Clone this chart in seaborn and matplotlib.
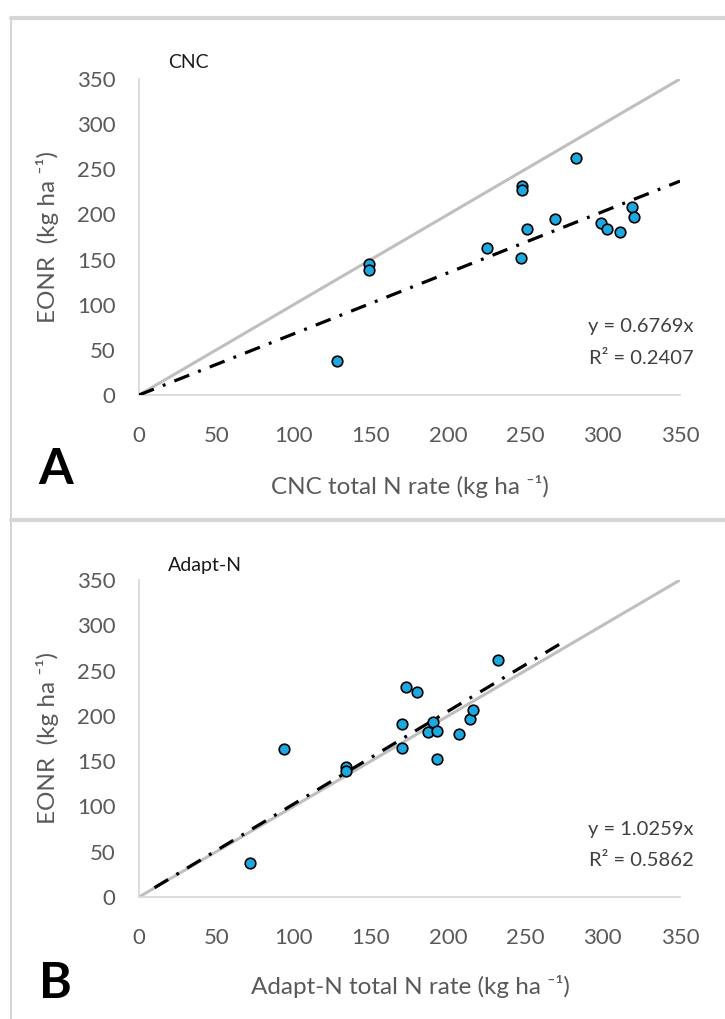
import matplotlib
matplotlib.use("Agg")
import matplotlib.pyplot as plt
import seaborn as sns
import numpy as np
from matplotlib.lines import Line2D

# ---- data ----
cnc_rate = [128, 149, 149, 225, 247, 248, 248, 251, 269, 283, 299, 303, 311, 319, 320]
cnc_eonr = [38, 145, 139, 163, 152, 232, 227, 184, 195, 262, 191, 184, 180, 208, 197]
adapt_rate = [72, 94, 134, 134, 170, 170, 173, 180, 190, 187, 193, 193, 207, 214, 216, 232]
adapt_eonr = [38, 163, 143, 139, 165, 191, 232, 226, 193, 182, 183, 152, 180, 197, 207, 262]
cnc_slope = 0.6769
cnc_r2 = 0.2407
adapt_slope = 1.0259
adapt_r2 = 0.5862
cnc_trend_x = [0, 350]
adapt_trend_x = [10, 272]
one_to_one = [0, 350]
ticks = [0, 50, 100, 150, 200, 250, 300, 350]

sns.set_style("white")
plt.rcParams['font.family'] = ['Lato', 'DejaVu Sans']

W, H = 725, 1019
fig = plt.figure(figsize=(W / 100, H / 100), dpi=100)


def fx(px):
    return px / W


def fy(py):
    return 1 - py / H


tick_col = '#595959'
axis_col = '#D9D9D9'
unit = '(kg ha \u207b\u00b9)'

panels = [
    dict(top=79, bot=395, x=cnc_rate, y=cnc_eonr, slope=cnc_slope, r2=cnc_r2,
         tx=cnc_trend_x, title='CNC', xlabel='CNC total N rate ' + unit,
         letter='A', title_y=62, xlabel_y=487, letter_xy=(56, 469)),
    dict(top=580, bot=897, x=adapt_rate, y=adapt_eonr, slope=adapt_slope, r2=adapt_r2,
         tx=adapt_trend_x, title='Adapt-N', xlabel='Adapt-N total N rate ' + unit,
         letter='B', title_y=566, xlabel_y=986, letter_xy=(55, 983)),
]

left, right = 139, 680
for p in panels:
    ax = fig.add_axes([fx(left), fy(p['bot']), fx(right) - fx(left), fy(p['top']) - fy(p['bot'])])
    ax.set_xlim(0, 350)
    ax.set_ylim(0, 350)
    # 1:1 line
    sns.lineplot(x=one_to_one, y=one_to_one, ax=ax, color='#BFBFBF', lw=2.2, zorder=2)
    # trend line
    tx = np.array(p['tx'], dtype=float)
    sns.lineplot(x=tx, y=p['slope'] * tx, ax=ax, color='black', lw=2.3, zorder=3)
    ax.lines[-1].set_dashes([5, 3, 0.9, 3])
    sns.scatterplot(x=p['x'], y=p['y'], ax=ax, color='#1BA9E0', edgecolor='black',
                    linewidth=1.2, s=58, zorder=4)
    ax.set_xticks(ticks)
    ax.set_yticks(ticks)
    for s in ['top', 'right']:
        ax.spines[s].set_visible(False)
    for s in ['left', 'bottom']:
        ax.spines[s].set_color(axis_col)
        ax.spines[s].set_linewidth(1.3)
    ax.tick_params(axis='x', direction='out', length=8, width=1.3, color=axis_col,
                   labelsize=16, labelcolor=tick_col, pad=14)
    ax.tick_params(axis='y', direction='out', length=6, width=1.3, color=axis_col,
                   labelsize=16, labelcolor=tick_col, pad=11)
    ax.set_xlabel('')
    ax.set_ylabel('')
    ax.grid(False)
    ax.set_facecolor('none')
    fig.text(fx(48), fy((p['top'] + p['bot']) / 2), 'EONR  ' + unit, rotation=90,
             ha='center', va='center', fontsize=17.5, color=tick_col)
    fig.text(fx(694), fy(p['bot'] - 68), f'y = {p["slope"]:.4f}x',
             ha='right', va='center', fontsize=14.5, color='#404040')
    fig.text(fx(694), fy(p['bot'] - 37), f'R\u00b2 = {p["r2"]:.4f}',
             ha='right', va='center', fontsize=14.5, color='#404040')
    fig.text(fx(168), fy(p['title_y']), p['title'], ha='left', va='center',
             fontsize=14, color='#1a1a1a')
    fig.text(fx(410), fy(p['xlabel_y']), p['xlabel'], ha='center', va='center',
             fontsize=17.5, color=tick_col)
    lx, ly = p['letter_xy']
    fig.text(fx(lx), fy(ly), p['letter'], ha='center', va='center', fontsize=36,
             fontweight='bold', color='black')

# chart-area frames
frame_col = '#D6D6D6'
fig.add_artist(Line2D([fx(11), fx(11)], [fy(18), fy(1019)], color=frame_col, lw=1.5))
fig.add_artist(Line2D([fx(11), 1], [fy(18), fy(18)], color=frame_col, lw=3))
fig.add_artist(Line2D([fx(11), 1], [fy(520), fy(520)], color=frame_col, lw=3))

fig.savefig('out.png', dpi=100)
